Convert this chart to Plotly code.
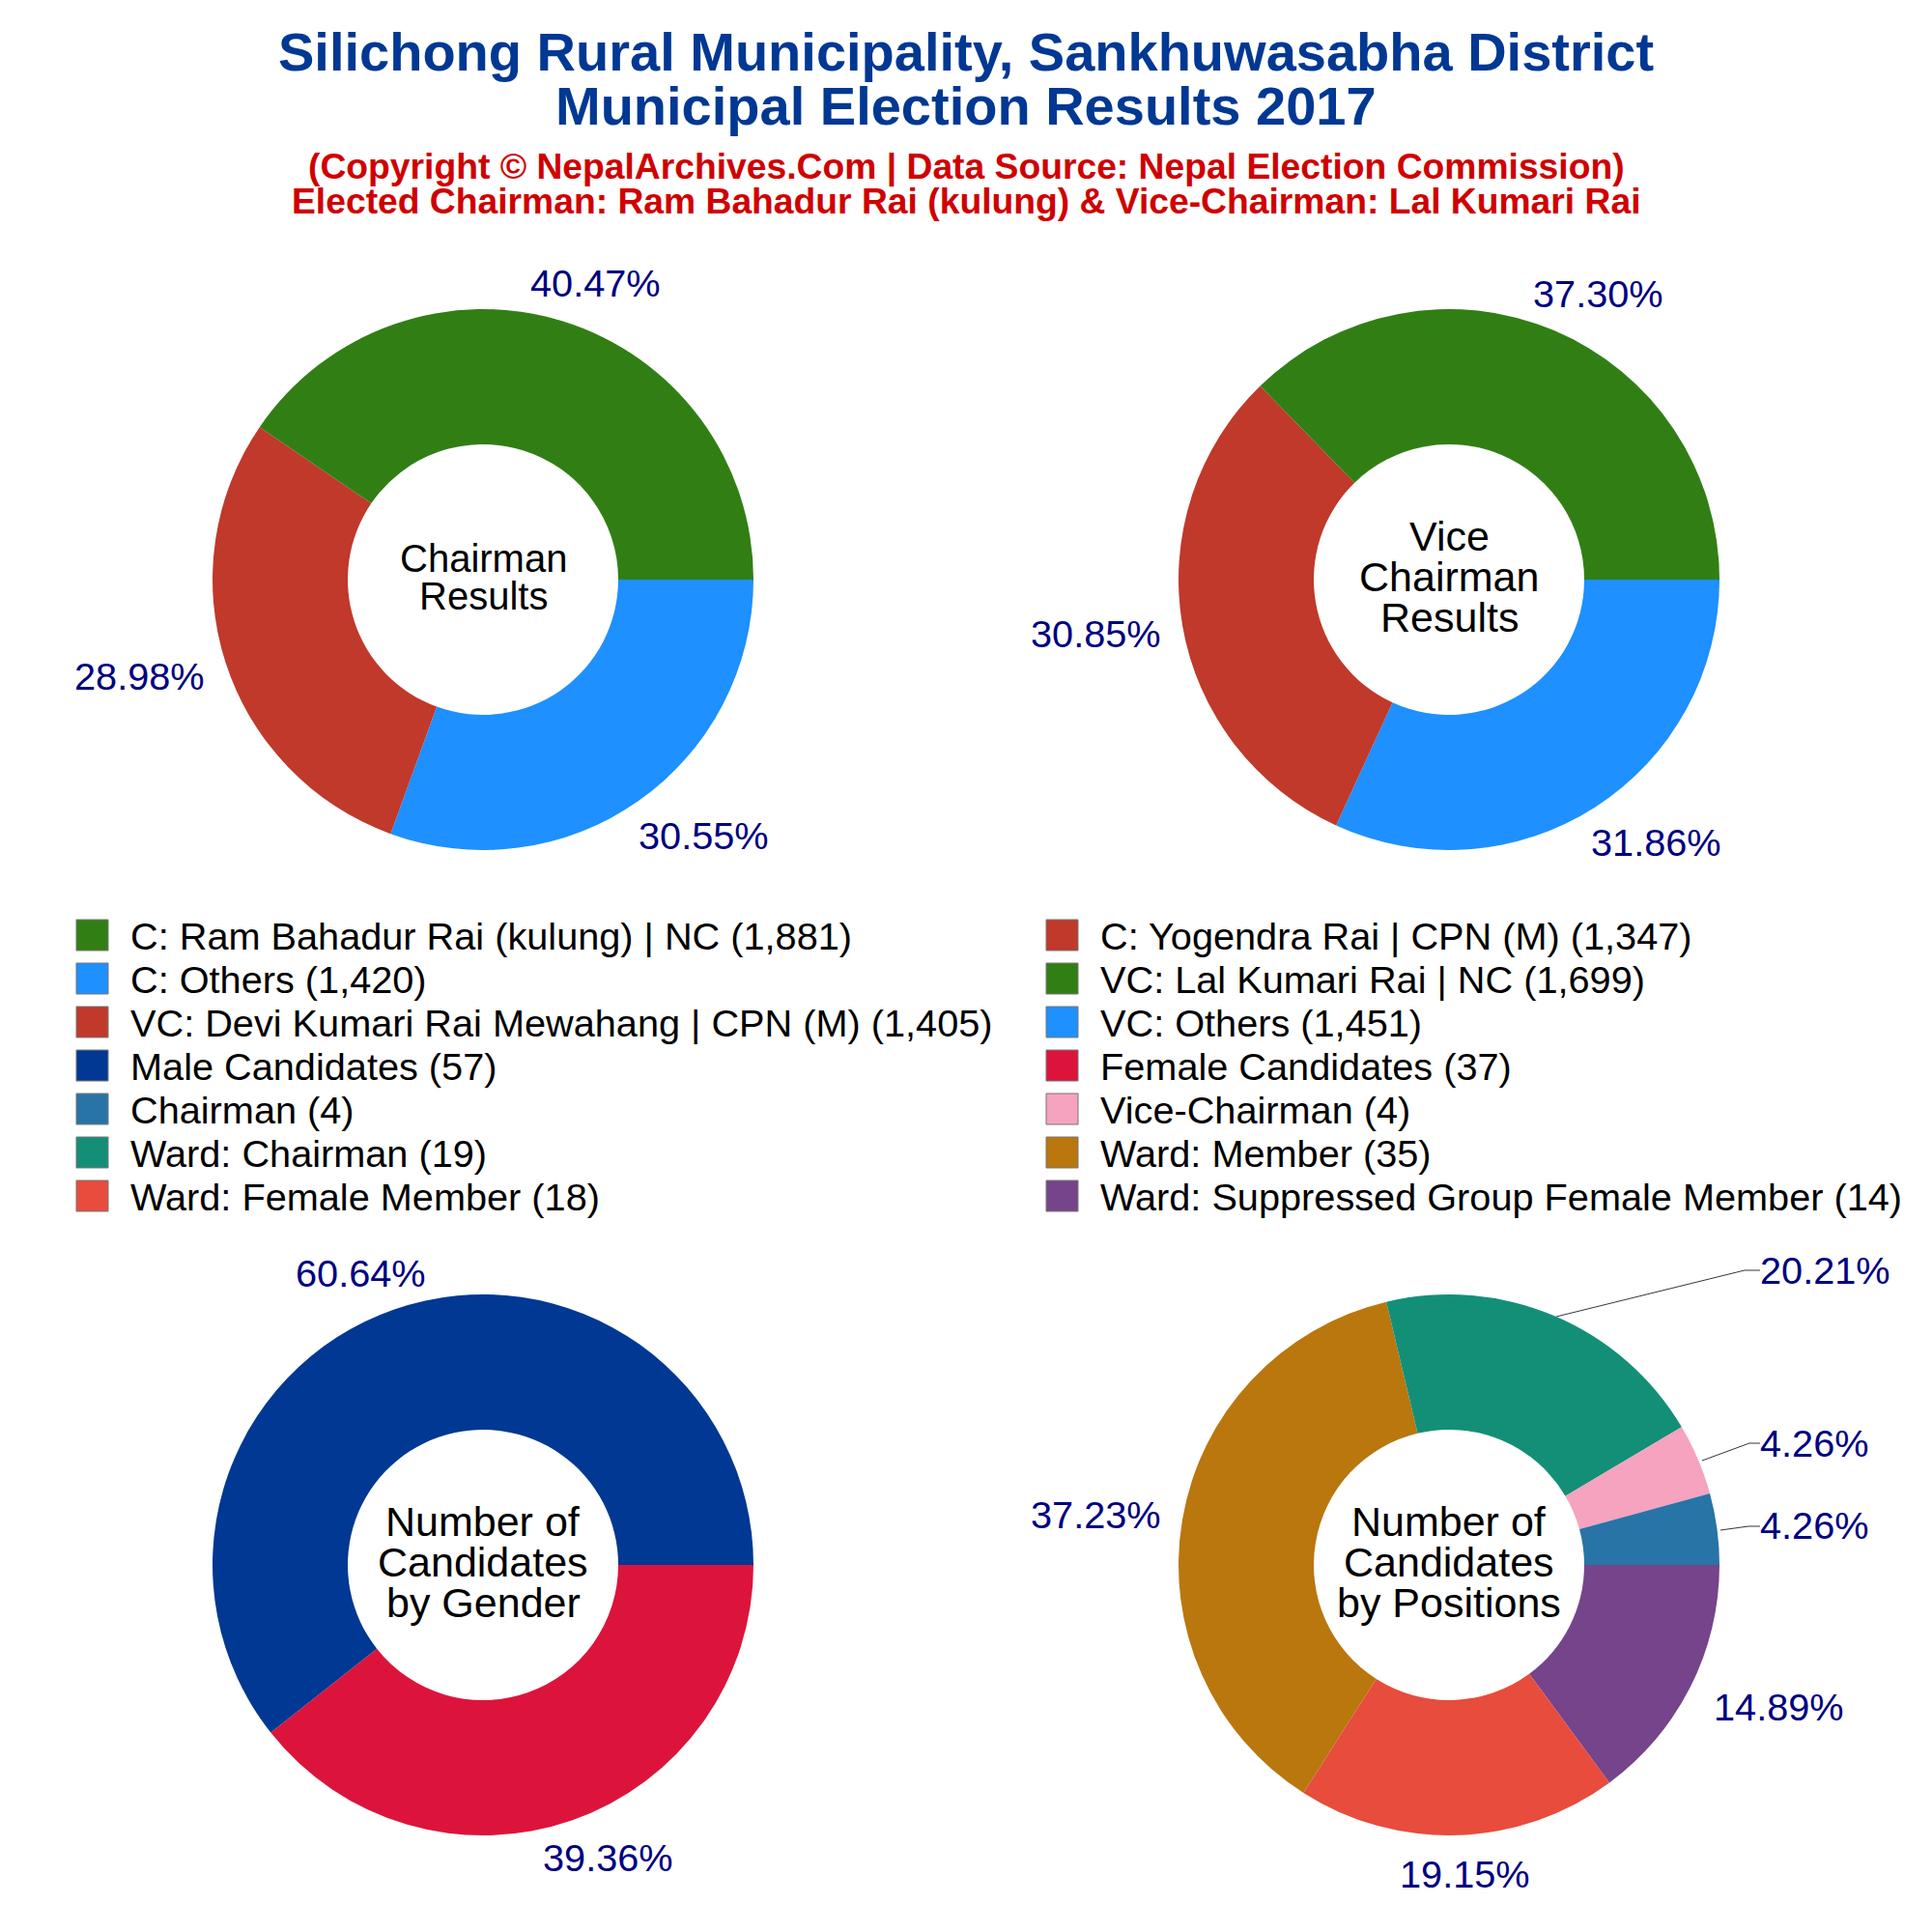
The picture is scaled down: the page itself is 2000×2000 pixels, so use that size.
import plotly.graph_objects as go

# chart values
chair_labels = ["C: Ram Bahadur Rai (kulung) | NC", "C: Yogendra Rai | CPN (M)", "C: Others"]
chair_values = [1881, 1347, 1420]
vice_labels = ["VC: Lal Kumari Rai | NC", "VC: Devi Kumari Rai Mewahang | CPN (M)", "VC: Others"]
vice_values = [1699, 1405, 1451]
gender_labels = ["Male Candidates", "Female Candidates"]
gender_values = [57, 37]
pos_labels = ["Chairman", "Vice-Chairman", "Ward: Chairman", "Ward: Member", "Ward: Female Member",
              "Ward: Suppressed Group Female Member"]
pos_values = [4, 4, 19, 35, 18, 14]

chair_colors = ["#317F14", "#C0392B", "#1E90FF"]
gender_colors = ["#003893", "#DC143C"]
pos_colors = ["#2874A6", "#F5A3BF", "#148F77", "#B9770E", "#E74C3C", "#76448A"]

title_lines = ["Silichong Rural Municipality, Sankhuwasabha District", "Municipal Election Results 2017"]
sub_lines = ["(Copyright © NepalArchives.Com | Data Source: Nepal Election Commission)",
             "Elected Chairman: Ram Bahadur Rai (kulung) & Vice-Chairman: Lal Kumari Rai"]

SIZE = 2000
FONT = "Liberation Sans"
PAGE_MARGIN = 8  # the page body pushes the figure this far in


def px_x(v):
    return (v - PAGE_MARGIN) / SIZE


def px_y(v):
    return 1 - (v - PAGE_MARGIN) / SIZE


def add_text(fig, text, x, y, size, color="black", bold=False, anchor="center"):
    fig.add_annotation(text="<b>%s</b>" % text if bold else text, x=px_x(x), y=px_y(y), xref="paper", yref="paper",
                       xanchor=anchor, yanchor="middle", showarrow=False,
                       font=dict(family=FONT, size=size, color=color))


def add_pie(fig, labels, values, colors, cx, cy, label_spots):
    # slices run anticlockwise from 3 o'clock in the picture, so feed them reversed
    fig.add_trace(go.Pie(
        labels=labels[::-1], values=values[::-1], sort=False, direction="clockwise", rotation=90, hole=0.5,
        marker=dict(colors=colors[::-1]), textinfo="none",
        domain=dict(x=[px_x(cx - 280), px_x(cx + 280)], y=[px_y(cy + 280), px_y(cy - 280)]),
        automargin=False, showlegend=False))
    # plotly's own outside labels land elsewhere, so these are placed by hand
    for v, (x, y) in zip(values, label_spots):
        add_text(fig, "{:.2%}".format(v / sum(values)), x, y, 39.7, "#000080")


fig = go.Figure()
add_pie(fig, chair_labels, chair_values, chair_colors, 500, 600, [(616, 293), (144, 700), (728, 865)])
add_pie(fig, vice_labels, vice_values, chair_colors, 1500, 600, [(1654, 304), (1134, 656), (1714, 872)])
add_pie(fig, gender_labels, gender_values, gender_colors, 500, 1620, [(373, 1318), (629, 1923)])
add_pie(fig, pos_labels, pos_values, pos_colors, 1500, 1620,
        [(1878, 1579), (1878, 1494), (1889, 1315), (1134, 1568), (1516, 1940), (1841, 1767)])

# leader lines of the small slices
for pts in [[(1611, 1363), (1806, 1315), (1822, 1315)],
            [(1762, 1512), (1811, 1494), (1822, 1494)],
            [(1781, 1584), (1810, 1580), (1822, 1580)]]:
    path = "M" + " L".join("{} {}".format(px_x(x), px_y(y)) for x, y in pts)
    fig.add_shape(type="path", xref="paper", yref="paper", path=path, line=dict(color="black", width=0.8))

add_text(fig, title_lines[0], 1000, 53.5, 56, "#003893", True)
add_text(fig, title_lines[1], 1000, 109.5, 56, "#003893", True)
add_text(fig, sub_lines[0], 1000, 172.5, 37.25, "#D00000", True)
add_text(fig, sub_lines[1], 1000, 208.5, 37.25, "#D00000", True)

# centre captions, one line at a time because the line spacing is tighter than plotly's
for line, y in [("Chairman", 578), ("Results", 617)]:
    add_text(fig, line, 500, y, 40)
for line, y in [("Vice", 555), ("Chairman", 597), ("Results", 639)]:
    add_text(fig, line, 1500, y, 43)
for line, y in [("Number of", 1575), ("Candidates", 1617), ("by Gender", 1659)]:
    add_text(fig, line, 500, y, 43)
for line, y in [("Number of", 1575), ("Candidates", 1617), ("by Positions", 1659)]:
    add_text(fig, line, 1500, y, 43)

# legend drawn by hand, the native one has fixed 12px swatches
legend_rows = []
for labels, values, colors in [(chair_labels, chair_values, chair_colors), (vice_labels, vice_values, chair_colors),
                               (gender_labels, gender_values, gender_colors), (pos_labels, pos_values, pos_colors)]:
    legend_rows += [("{} ({:,})".format(l, v), c) for l, v, c in zip(labels, values, colors)]

for i, (text, color) in enumerate(legend_rows):
    row = i // 2
    left = 79 if i % 2 == 0 else 1083
    y = 969 + row * 45
    fig.add_shape(type="rect", xref="paper", yref="paper", x0=px_x(left), x1=px_x(left + 33),
                  y0=px_y(y + 15), y1=px_y(y - 17), fillcolor=color, line=dict(color="#777777", width=1))
    add_text(fig, text, left + 54, y, 39.7, anchor="left")

fig.update_layout(width=SIZE, height=SIZE, margin=dict(l=0, r=0, t=0, b=0), showlegend=False,
                  paper_bgcolor="white", plot_bgcolor="white", font=dict(family=FONT))
fig.write_html("out.html")
